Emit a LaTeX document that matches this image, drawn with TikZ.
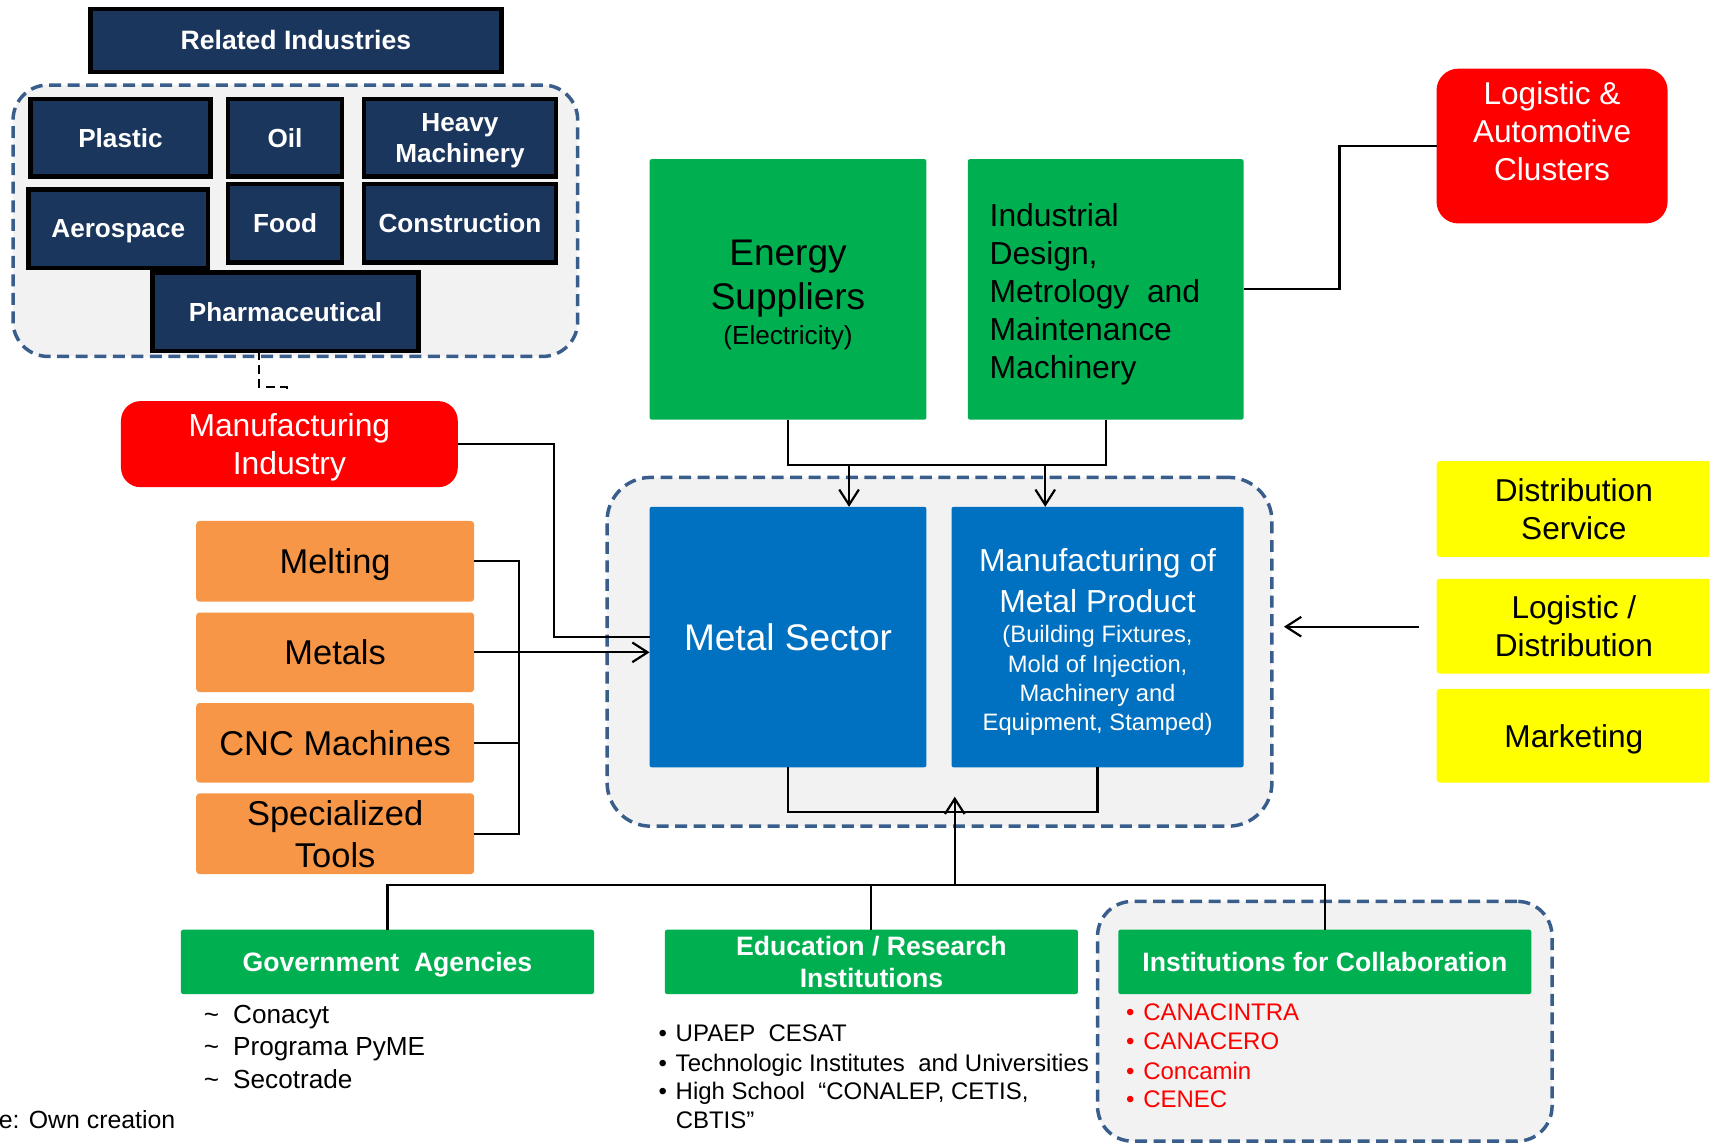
\documentclass[tikz,border=0pt]{standalone}
\usepackage{fontspec}
\setmainfont{Liberation Sans}
\usetikzlibrary{arrows.meta}
\definecolor{navy}{HTML}{1B365D}
\definecolor{dashblue}{HTML}{3A5E8C}
\definecolor{panel}{HTML}{F2F2F2}
\definecolor{grn}{HTML}{00B050}
\definecolor{blu}{HTML}{0070C0}
\definecolor{org}{HTML}{F79646}
\definecolor{ylw}{HTML}{FFFF00}
\definecolor{rd}{HTML}{FF0000}
\newcommand\fsz[2]{\fontsize{#1}{#2}\selectfont}
\begin{document}
\begin{tikzpicture}[x=0.5pt,y=-0.5pt,
  every node/.style={inner sep=0pt, outer sep=0pt, text depth=0pt},
  container/.style={draw=dashblue, fill=panel, line width=1.6pt, dash pattern=on 5.5pt off 3pt},
  navybox/.style={draw=black, line width=2pt, fill=navy, text=white, font=\fsz{12}{14}\bfseries, align=center},
  redbox/.style={fill=rd, text=white, align=center},
  grnbox/.style={fill=grn, rounded corners=1pt},
  blubox/.style={fill=blu, text=white, rounded corners=1pt},
  orgbox/.style={fill=org, minimum width=127.5pt, rounded corners=1.5pt, font=\fsz{15.8}{19.5}, align=center},
  ylwbox/.style={fill=ylw, minimum width=126pt, rounded corners=1.5pt, font=\fsz{14.5}{17.5}, align=center},
  grnbold/.style={fill=grn, text=white, font=\fsz{12.2}{14.5}\bfseries, align=center, minimum width=189.5pt, minimum height=29.5pt, rounded corners=1pt},
  conn/.style={line width=1pt},
  dconn/.style={line width=1pt, dash pattern=on 4pt off 2.5pt},
  arr/.style={line width=1pt, -{Straight Barb[length=7pt,width=9pt]}},
  listtxt/.style={anchor=west, font=\fsz{11}{13}}
]
\useasboundingbox (0,0) rectangle (1568,1050);
\clip (0,0) rectangle (1568,1050);

% ---------- Related industries ----------
\node[container, rounded corners=16pt, minimum width=259pt, minimum height=124.5pt] (relc) at (271,202.5) {};
\node[navybox, font=\fsz{12.2}{14}\bfseries, minimum width=188.5pt, minimum height=29pt] (rel) at (271.5,37) {Related Industries};
\node[navybox, minimum width=82.5pt, minimum height=35.5pt] (pla) at (110.5,126.5) {Plastic};
\node[navybox, minimum width=52.5pt, minimum height=35.5pt] (oil) at (261.5,126.5) {Oil};
\node[navybox, minimum width=88pt, minimum height=35.5pt] (hvy) at (422,126.5) {Heavy\\Machinery};
\node[navybox, minimum width=82.5pt, minimum height=36pt] (aer) at (108.5,210) {Aerospace};
\node[navybox, minimum width=52.5pt, minimum height=36pt] (food) at (261.5,205) {Food};
\node[navybox, minimum width=88pt, minimum height=36pt] (cons) at (422,205) {Construction};
\node[navybox, minimum width=122pt, minimum height=36pt] (ph) at (262,286) {Pharmaceutical};

\node[redbox, rounded corners=9pt, minimum width=154.5pt, minimum height=39.5pt, font=\fsz{14.6}{17.5}] (mi) at (265.5,407.5) {Manufacturing\\Industry};

% ---------- Orange ----------
\node[orgbox, minimum height=37pt] (melt) at (307.5,515) {Melting};
\node[orgbox, minimum height=36.5pt] (met) at (307.5,598.5) {Metals};
\node[orgbox, minimum height=36.5pt] (cnc) at (307.5,681.5) {CNC Machines};
\node[orgbox, minimum height=37pt] (spec) at (307.5,765) {Specialized\\Tools};

% ---------- Green top ----------
\node[grnbox, minimum width=127pt, minimum height=119.5pt] (es) at (723,265.5) {};
\node[font=\fsz{17}{20}, align=center] (est) at (723,252) {Energy\\Suppliers};
\node[font=\fsz{12}{14}] (ese) at (723,307) {(Electricity)};
\node[grnbox, minimum width=126.5pt, minimum height=119.5pt] (id) at (1014.5,265.5) {};
\node[anchor=west, align=left, font=\fsz{14.6}{17.5}] (idt) at (908,267) {Industrial\\Design,\\Metrology\ \ and\\Maintenance\\Machinery};

\node[redbox, rounded corners=10pt, minimum width=106pt, minimum height=71pt] (lac) at (1424,134) {};
\node[font=\fsz{14.5}{17.5}, text=white, align=center] (lact) at (1424,120) {Logistic \&\\Automotive\\Clusters};

% ---------- Metal cluster ----------
\node[container, rounded corners=20pt, minimum width=305pt, minimum height=160pt] (bigc) at (862,598) {};
\node[blubox, minimum width=127pt, minimum height=119.5pt, font=\fsz{17}{20}] (ms) at (723,584.5) {Metal Sector};
\node[blubox, minimum width=134pt, minimum height=119.5pt] (mp) at (1007,584.5) {};
\node[font=\fsz{14.6}{18.5}, text=white, align=center] (mpt) at (1007,532.5) {Manufacturing of\\Metal Product};
\node[font=\fsz{10.9}{13.33}, text=white, align=center] (mps) at (1007,622) {(Building Fixtures,\\Mold of Injection,\\Machinery and\\Equipment, Stamped)};

% ---------- Yellow ----------
\node[ylwbox, minimum height=44pt] (ds) at (1444,467) {Distribution\\Service};
\node[ylwbox, minimum height=43.5pt] (ld) at (1444,574.5) {Logistic /\\Distribution};
\node[ylwbox, minimum height=43pt] (mk) at (1444,675) {Marketing};

% ---------- Bottom ----------
\node[grnbold] (gov) at (355.5,882.5) {Government\ \ Agencies};
\node[grnbold] (edu) at (799.5,882.5) {Education / Research\\Institutions};
\node[container, rounded corners=16pt, minimum width=208.5pt, minimum height=110pt] (instc) at (1215.5,937) {};
\node[grnbold] (inst) at (1215.5,882.5) {Institutions for Collaboration};

\node[anchor=west, font=\fsz{12}{14}] (g1) at (214,931) {\llap{\textasciitilde\hspace{6.5pt}}Conacyt};
\node[anchor=west, font=\fsz{12}{14}] (g2) at (214,960) {\llap{\textasciitilde\hspace{6.5pt}}Programa PyME};
\node[anchor=west, font=\fsz{12}{14}] (g3) at (214,990) {\llap{\textasciitilde\hspace{6.5pt}}Secotrade};

\node[listtxt] (e1) at (620,948) {\llap{\textbullet\hspace{4pt}}UPAEP\ \ CESAT};
\node[listtxt] (e2) at (620,975) {\llap{\textbullet\hspace{4pt}}Technologic Institutes\ \ and Universities};
\node[listtxt] (e3) at (620,1001) {\llap{\textbullet\hspace{4pt}}High School\ \ “CONALEP, CETIS,};
\node[listtxt] (e4) at (620,1028) {CBTIS”};

\node[listtxt, text=rd] (r1) at (1049,929) {\llap{\textbullet\hspace{4pt}}CANACINTRA};
\node[listtxt, text=rd] (r2) at (1049,955) {\llap{\textbullet\hspace{4pt}}CANACERO};
\node[listtxt, text=rd] (r3) at (1049,982) {\llap{\textbullet\hspace{4pt}}Concamin};
\node[listtxt, text=rd] (r4) at (1049,1008) {\llap{\textbullet\hspace{4pt}}CENEC};

\node[anchor=west, font=\fsz{11.4}{14}] (src) at (-1,1027) {e: Own creation};

% ---------- Connectors ----------
\coordinate (pd) at (263,361);
\draw[dconn] ([xshift=-12pt]ph.south) |- ([yshift=3pt]pd) -- (pd);

\coordinate (j1) at (508,500);
\draw[conn] (mi.east) -| (j1) |- (ms.west);

\coordinate (ob) at (476,640);
\draw[conn] (melt.east) -| (ob) |- (spec.east);
\draw[conn] (cnc.east) -- (cnc.east -| ob);
\draw[arr] (met.east) -- (met.east -| ms.west);

\coordinate (tb) at (870,427);
\draw[conn] (es.south) |- (tb) -| (id.south);
\coordinate (a1) at (779,427);
\coordinate (a2) at (959,427);
\draw[arr] (a1) -- (a1 |- ms.north);
\draw[arr] (a2) -- (a2 |- mp.north);

\coordinate (rj) at (1229,200);
\draw[conn] (id.east) -| (rj) |- (lac.west);

\coordinate (yfree) at (1302,575);
\coordinate (ytip) at (1178,575);
\draw[arr] (yfree) -- (ytip);

\coordinate (bb) at (870,745);
\draw[conn] (ms.south) |- (bb) -| (mp.south);
\coordinate (upb) at (876,812);
\coordinate (upt) at (876,731);
\draw[arr] (upb) -- (upt);
\draw[conn] (gov.north) |- (upb) -| (inst.north);
\draw[conn] (edu.north) -- (edu.north |- upb);
\end{tikzpicture}
\end{document}
